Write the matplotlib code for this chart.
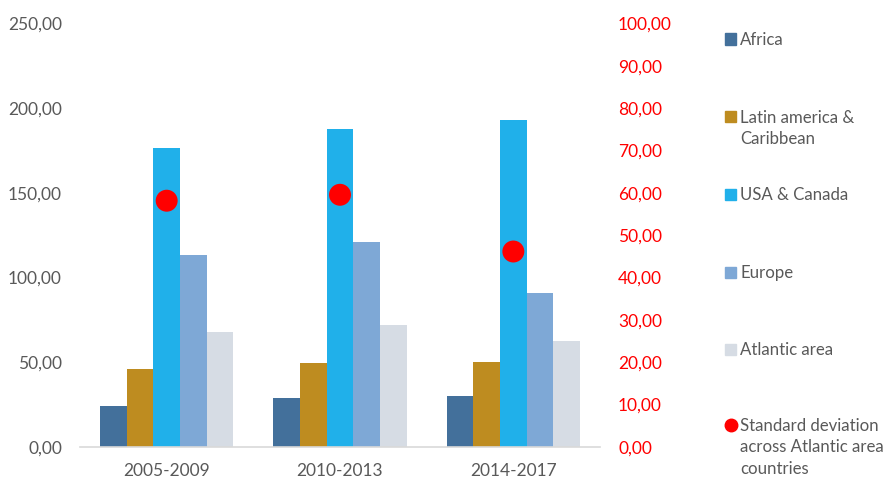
import matplotlib
matplotlib.use('Agg')
import numpy as np
import matplotlib.pyplot as plt
from matplotlib.patches import Rectangle
from matplotlib.lines import Line2D
from matplotlib import rcParams
rcParams['font.family'] = 'Lato'

periods = ['2005-2009', '2010-2013', '2014-2017']
regions = ['Africa', 'Latin america &\nCaribbean', 'USA & Canada', 'Europe', 'Atlantic area']
africa = [24.2, 28.9, 30.1]
latin_america = [45.7, 49.4, 49.8]
usa_canada = [176.5, 187.5, 192.7]
europe = [113.2, 120.8, 90.5]
atlantic = [67.5, 71.8, 62.4]
std_dev = [58.1, 59.5, 46.1]
std_label = 'Standard deviation\nacross Atlantic area\ncountries'

colors = ['#43709B', '#BE8C20', '#20B0EA', '#7EA8D6', '#D6DCE4']
grey = '#595959'
red = '#FF0000'

fig = plt.figure(figsize=(8.94, 4.8), dpi=100)
ax = fig.add_axes([80/894, 1-446.7/480, 520/894, 423.4/480])
ax2 = ax.twinx()

x = np.arange(len(periods))
w = 0.77 / 5
series = [africa, latin_america, usa_canada, europe, atlantic]
for i, (vals, col) in enumerate(zip(series, colors)):
    ax.bar(x + (i - 2) * w, vals, w, color=col, zorder=2)

ax2.scatter(x, std_dev, s=250, color=red, zorder=5, edgecolors='none')

ax.set_xlim(-0.5, 2.5)
ax.set_ylim(0, 250)
ax2.set_ylim(0, 100)
ax.set_yticks(np.arange(0, 251, 50))
ax.set_yticklabels(['%d,00' % v for v in range(0, 251, 50)])
ax2.set_yticks(np.arange(0, 101, 10))
ax2.set_yticklabels(['%d,00' % v for v in range(0, 101, 10)])
ax.set_xticks(x)
ax.set_xticklabels(periods)

for a in (ax, ax2):
    for s in ['top', 'left', 'right']:
        a.spines[s].set_visible(False)
    a.tick_params(length=0, labelsize=12.5)
ax2.spines['bottom'].set_visible(False)
ax.spines['bottom'].set_color('#D9D9D9')
ax.spines['bottom'].set_linewidth(1.2)
ax.tick_params(axis='y', colors=grey, pad=13)
ax.tick_params(axis='x', colors=grey, pad=12)
ax2.tick_params(axis='y', colors=red, pad=13)

# legend drawn by hand, one row every ~78 px
legend_y = [39, 116.7, 194, 272, 349, 425]
for i, lab in enumerate(regions + [std_label]):
    yc = 1 - legend_y[i] / 480
    if i < 5:
        fig.add_artist(Rectangle((725/894, yc - 5.5/480), 11/894, 11/480,
                                 transform=fig.transFigure, color=colors[i]))
    else:
        fig.add_artist(Line2D([731/894], [yc], marker='o', markersize=9,
                              color=red, transform=fig.transFigure))
    fig.text(740/894, yc + 7/480, lab, fontsize=12.1, color=grey,
             va='top', ha='left', linespacing=1.42)

plt.savefig('out.png', dpi=100)
